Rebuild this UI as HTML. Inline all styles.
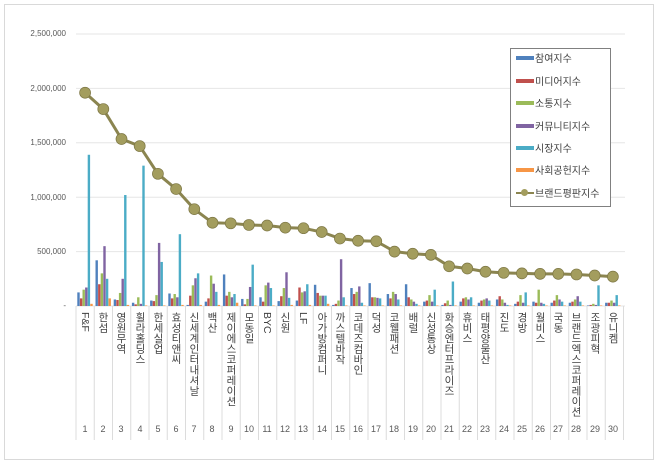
<!DOCTYPE html>
<html><head><meta charset="utf-8"><style>
body{margin:0;background:#fff;width:660px;height:465px;overflow:hidden;position:relative;font-family:"Liberation Sans","Noto Sans CJK KR",sans-serif}
.frame{position:absolute;left:4px;top:4px;width:650px;height:456px;border:1px solid #d9d9d9;box-sizing:border-box}
.yl{position:absolute;right:594px;font-size:8px;color:#595959;text-align:right}
.cl{position:absolute;top:312px;writing-mode:vertical-rl;font-size:10.5px;color:#404040;line-height:12px;width:12px;letter-spacing:0px}
.num{position:absolute;top:424px;font-size:9px;color:#595959;width:18px;text-align:center}
.leg{position:absolute;left:510px;top:48px;width:101px;height:159px;border:1px solid #808080;background:#fff;box-sizing:border-box;font-size:10px;color:#404040}
.li{position:absolute;left:5px;height:12px;line-height:12px}
.sw{display:inline-block;width:18px;height:4px;vertical-align:middle;margin-right:1px;margin-top:-2px}
</style></head><body>
<div class="frame"></div>
<div class="yl" style="top:29px">2,500,000</div>
<div class="yl" style="top:84px">2,000,000</div>
<div class="yl" style="top:138px">1,500,000</div>
<div class="yl" style="top:193px">1,000,000</div>
<div class="yl" style="top:247px">500,000</div>
<div class="yl" style="top:301px">-</div>
<svg id="s" width="660" height="465" style="position:absolute;left:0;top:0"></svg>
<div class="cl" style="left:79px">F&amp;F</div>
<div class="cl" style="left:97px">한섬</div>
<div class="cl" style="left:115px">영원무역</div>
<div class="cl" style="left:134px">휠라홀딩스</div>
<div class="cl" style="left:152px">한세실업</div>
<div class="cl" style="left:170px">효성티앤씨</div>
<div class="cl" style="left:188px">신세계인터내셔날</div>
<div class="cl" style="left:206px">백산</div>
<div class="cl" style="left:225px">제이에스코퍼레이션</div>
<div class="cl" style="left:243px">모동일</div>
<div class="cl" style="left:261px">BYC</div>
<div class="cl" style="left:279px">신원</div>
<div class="cl" style="left:297px">LF</div>
<div class="cl" style="left:316px">아가방컴퍼니</div>
<div class="cl" style="left:334px">까스텔바작</div>
<div class="cl" style="left:352px">코데즈컴바인</div>
<div class="cl" style="left:370px">덕성</div>
<div class="cl" style="left:388px">코웰패션</div>
<div class="cl" style="left:407px">배럴</div>
<div class="cl" style="left:425px">신성통상</div>
<div class="cl" style="left:443px">화승엔터프라이즈</div>
<div class="cl" style="left:461px">휴비스</div>
<div class="cl" style="left:479px">태평양물산</div>
<div class="cl" style="left:498px">진도</div>
<div class="cl" style="left:516px">경방</div>
<div class="cl" style="left:534px">월비스</div>
<div class="cl" style="left:552px">국동</div>
<div class="cl" style="left:570px">브랜드엑스코퍼레이션</div>
<div class="cl" style="left:589px">조광피혁</div>
<div class="cl" style="left:607px">유니켐</div>
<div class="num" style="left:76px">1</div><div class="num" style="left:94px">2</div><div class="num" style="left:112px">3</div><div class="num" style="left:131px">4</div><div class="num" style="left:149px">5</div><div class="num" style="left:167px">6</div><div class="num" style="left:185px">7</div><div class="num" style="left:203px">8</div><div class="num" style="left:222px">9</div><div class="num" style="left:240px">10</div><div class="num" style="left:258px">11</div><div class="num" style="left:276px">12</div><div class="num" style="left:294px">13</div><div class="num" style="left:313px">14</div><div class="num" style="left:331px">15</div><div class="num" style="left:349px">16</div><div class="num" style="left:367px">17</div><div class="num" style="left:385px">18</div><div class="num" style="left:404px">19</div><div class="num" style="left:422px">20</div><div class="num" style="left:440px">21</div><div class="num" style="left:458px">22</div><div class="num" style="left:476px">23</div><div class="num" style="left:495px">24</div><div class="num" style="left:513px">25</div><div class="num" style="left:531px">26</div><div class="num" style="left:549px">27</div><div class="num" style="left:567px">28</div><div class="num" style="left:586px">29</div><div class="num" style="left:604px">30</div>
<div class="leg">
<div class="li" style="top:5px"><span class="sw" style="background:#4f81bd"></span>참여지수</div>
<div class="li" style="top:28px"><span class="sw" style="background:#c0504d"></span>미디어지수</div>
<div class="li" style="top:50px"><span class="sw" style="background:#9bbb59"></span>소통지수</div>
<div class="li" style="top:73px"><span class="sw" style="background:#8064a2"></span>커뮤니티지수</div>
<div class="li" style="top:95px"><span class="sw" style="background:#4bacc6"></span>시장지수</div>
<div class="li" style="top:117px"><span class="sw" style="background:#f79646"></span>사회공헌지수</div>
<div class="li" style="top:140px"><span class="sw" style="background:#8b8550;height:2px;position:relative"><span style="position:absolute;left:5px;top:-3px;width:7px;height:7px;border-radius:50%;background:#a39d5e"></span></span>브랜드평판지수</div>
</div>
<script>
var s=document.getElementById('s'),h='';
var base=306,k=272/2500000;
for(var i=0;i<=5;i++){var y=base-i*54.4;h+='<line x1="76" x2="625" y1="'+y+'" y2="'+y+'" stroke="#e6e6e6" stroke-width="1"/>';}
for(var i=0;i<=30;i++){var x=76+i*18.25;h+='<line x1="'+x+'" x2="'+x+'" y1="306" y2="440" stroke="#dcdcdc"/>';}
var d=[[125,70,150,170,1390,20],[420,200,300,550,250,70],[60,55,120,250,1020,10],[30,15,80,20,1290,5],[50,45,100,580,405,5],[115,70,110,80,660,10],[10,95,190,255,300,10],[40,70,280,205,130,10],[290,95,130,80,110,30],[65,15,65,175,380,5],[80,40,190,215,165,5],[45,90,165,310,75,10],[50,170,125,135,200,10],[195,120,95,95,95,20],[10,20,50,430,80,5],[165,110,130,180,30,5],[210,80,80,75,70,5],[110,70,130,110,60,5],[200,80,60,40,20,5],[40,50,100,40,150,5],[10,25,50,10,225,5],[40,70,80,60,80,5],[30,50,60,70,50,5],[60,90,60,30,10,5],[20,40,100,30,125,5],[40,30,150,30,20,5],[30,50,100,60,40,5],[30,40,60,90,40,5],[5,10,20,10,190,5],[30,30,50,30,100,5]];
var c=['#4f81bd','#c0504d','#9bbb59','#8064a2','#4bacc6','#f79646'];
var L=[1960,1810,1535,1470,1215,1075,890,765,760,745,740,720,715,680,620,600,595,500,480,470,365,345,315,305,300,295,295,290,280,270];
for(var j=0;j<30;j++){var cx=85.1+j*18.2;for(var b=0;b<6;b++){var v=d[j][b]*1000*k;h+='<rect x="'+(cx-7.8+b*2.6)+'" y="'+(base-v)+'" width="2.4" height="'+v+'" fill="'+c[b]+'"/>';}}
var p='';for(var j=0;j<30;j++){p+=(85.1+j*18.2)+','+(base-L[j]*1000*k)+' ';}
h+='<polyline points="'+p+'" fill="none" stroke="#8b8550" stroke-width="3"/>';
for(var j=0;j<30;j++){h+='<circle cx="'+(85.1+j*18.2)+'" cy="'+(base-L[j]*1000*k)+'" r="5.5" fill="#a39d5e" stroke="#7d7745" stroke-width="0.7"/>';}
s.innerHTML=h;
</script>
</body></html>
